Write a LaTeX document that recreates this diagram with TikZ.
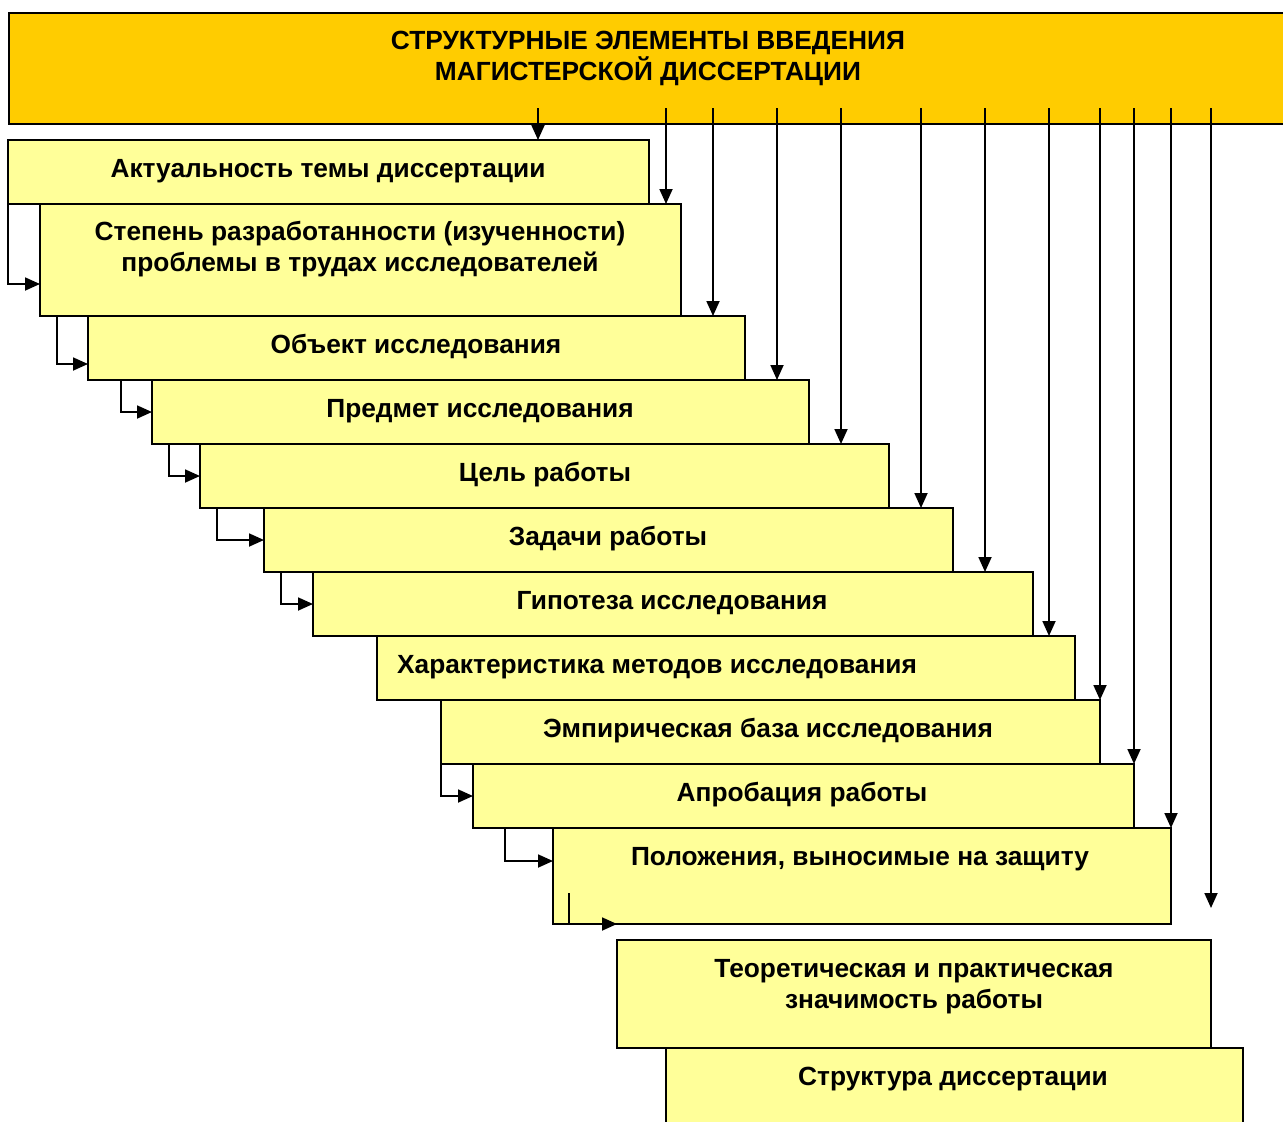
\documentclass[tikz,border=0pt]{standalone}
\usepackage{fontspec}
\setmainfont{Liberation Sans}
\usetikzlibrary{arrows.meta,calc}
\definecolor{gold}{HTML}{FFCC00}
\definecolor{pale}{HTML}{FFFF99}
\begin{document}
\begin{tikzpicture}[x=1pt,y=-1pt,
  boxst/.style={draw=black, line width=2pt, fill=pale, anchor=north west, inner sep=0pt, outer sep=0pt},
  lbl/.style={font=\bfseries\fontsize{26.3}{31}\selectfont, align=center, anchor=base, inner sep=0pt},
  arr/.style={line width=1.8pt, -{Triangle[length=15pt,width=13pt]}}]
\useasboundingbox (0,0) rectangle (1283,1122);
% title
\node[draw=black, line width=2pt, fill=gold, anchor=north west, inner sep=0pt, minimum width=1300pt, minimum height=111pt] (title) at (8,12) {};
\node[lbl] (tt) at (648,80) {СТРУКТУРНЫЕ ЭЛЕМЕНТЫ ВВЕДЕНИЯ\\МАГИСТЕРСКОЙ ДИССЕРТАЦИИ};
% boxes
\node[boxst, minimum width=641pt, minimum height=64pt] (b1) at (8,140) {};
\node[boxst, minimum width=641pt, minimum height=112pt] (b2) at (40,204) {};
\node[boxst, minimum width=657pt, minimum height=64pt] (b3) at (88,316) {};
\node[boxst, minimum width=657pt, minimum height=64pt] (b4) at (152,380) {};
\node[boxst, minimum width=689pt, minimum height=64pt] (b5) at (200,444) {};
\node[boxst, minimum width=689pt, minimum height=64pt] (b6) at (264,508) {};
\node[boxst, minimum width=720pt, minimum height=64pt] (b7) at (313,572) {};
\node[boxst, minimum width=698pt, minimum height=64pt] (b8) at (377,636) {};
\node[boxst, minimum width=659pt, minimum height=64pt] (b9) at (441,700) {};
\node[boxst, minimum width=661pt, minimum height=64pt] (b10) at (473,764) {};
\node[boxst, minimum width=618pt, minimum height=96pt] (b11) at (553,828) {};
\node[boxst, minimum width=594pt, minimum height=108pt] (b12) at (617,940) {};
\node[boxst, minimum width=577pt, minimum height=110pt] (b13) at (666,1048) {};
% labels
\node[lbl] (t1) at (328,177) {Актуальность темы диссертации};
\node[lbl] (t2) at (360,271) {Степень разработанности (изученности)\\проблемы в трудах исследователей};
\node[lbl] (t3) at (416,353) {Объект исследования};
\node[lbl] (t4) at (480,417) {Предмет исследования};
\node[lbl] (t5) at (545,481) {Цель работы};
\node[lbl] (t6) at (608,545) {Задачи работы};
\node[lbl] (t7) at (672,609) {Гипотеза исследования};
\node[lbl] (t8) at (657,673) {Характеристика методов исследования};
\node[lbl] (t9) at (768,737) {Эмпирическая база исследования};
\node[lbl] (t10) at (802,801) {Апробация работы};
\node[lbl] (t11) at (860,865) {Положения, выносимые на защиту};
\node[lbl] (t12) at (914,1008) {Теоретическая и практическая\\значимость работы};
\node[lbl] (t13) at (953,1085) {Структура диссертации};
% top arrows
\coordinate (s1) at (538,108);
\coordinate (s2) at (666,108);
\coordinate (s3) at (713,108);
\coordinate (s4) at (777,108);
\coordinate (s5) at (841,108);
\coordinate (s6) at (921,108);
\coordinate (s7) at (985,108);
\coordinate (s8) at (1049,108);
\coordinate (s9) at (1100,108);
\coordinate (s10) at (1134,108);
\coordinate (s11) at (1171,108);
\coordinate (s12) at (1211,108);
\coordinate (e12) at (1211,908);
\draw[arr] (s1) -- (s1 |- b1.north);
\draw[arr] (s2) -- (s2 |- b2.north);
\draw[arr] (s3) -- (s3 |- b3.north);
\draw[arr] (s4) -- (s4 |- b4.north);
\draw[arr] (s5) -- (s5 |- b5.north);
\draw[arr] (s6) -- (s6 |- b6.north);
\draw[arr] (s7) -- (s7 |- b7.north);
\draw[arr] (s8) -- (s8 |- b8.north);
\draw[arr] (s9) -- (s9 |- b9.north);
\draw[arr] (s10) -- (s10 |- b10.north);
\draw[arr] (s11) -- (s11 |- b11.north);
\draw[arr] (s12) -- (e12);
% left connectors
\coordinate (c3) at (57,316);
\coordinate (c4) at (121,380);
\coordinate (c5) at (169,444);
\coordinate (c6) at (217,508);
\coordinate (c7) at (281,572);
\coordinate (c11) at (505,828);
\coordinate (c12) at (569,893);
\coordinate (e13) at (617,924);
\draw[arr] (b1.south west) |- ([yshift=-24pt]b2.west);
\draw[arr] (c3) |- ([yshift=-16pt]b3.west);
\draw[arr] (c4) |- (b4.west);
\draw[arr] (c5) |- (b5.west);
\draw[arr] (c6) |- (b6.west);
\draw[arr] (c7) |- (b7.west);
\draw[arr] (b9.south west) |- (b10.west);
\draw[arr] (c11) |- ([yshift=15pt]b11.west);
\draw[arr] (c12) |- (e13);
\end{tikzpicture}
\end{document}
